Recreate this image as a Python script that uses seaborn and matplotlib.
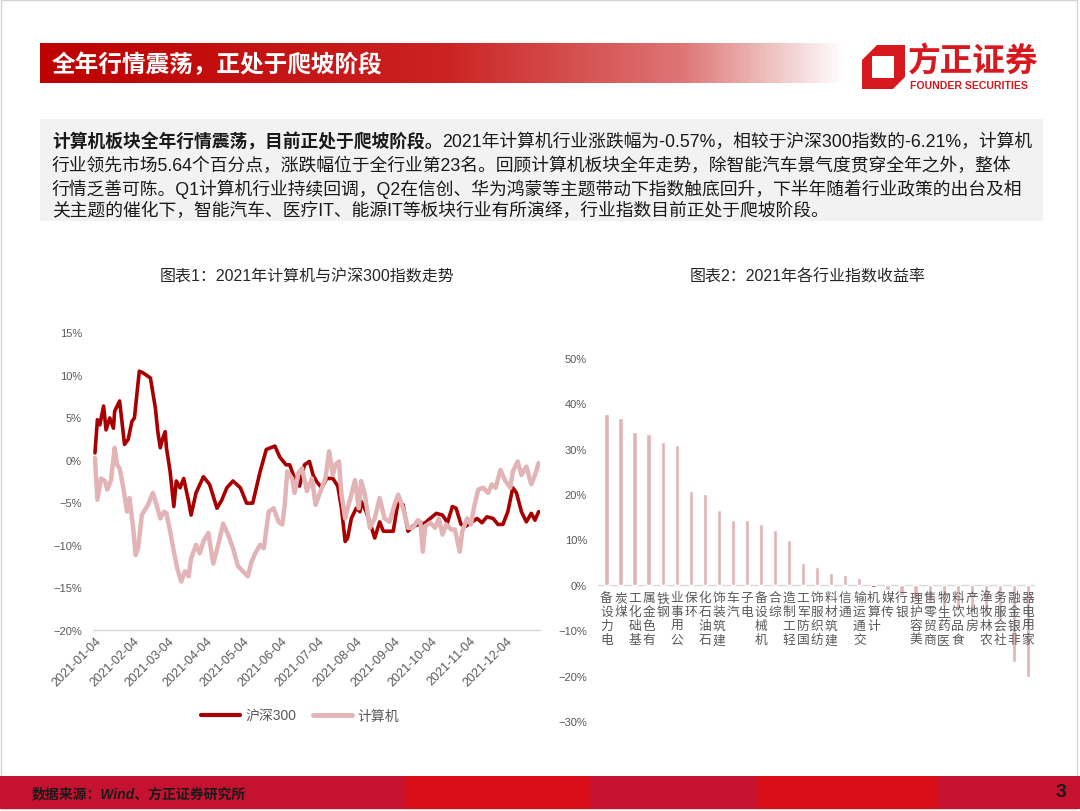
import numpy as np
import pandas as pd
import matplotlib
matplotlib.use('Agg')
import matplotlib.pyplot as plt
import matplotlib.dates as mdates
from matplotlib.patches import Rectangle, Polygon
from matplotlib.colors import LinearSegmentedColormap
from matplotlib.ticker import FuncFormatter
import seaborn as sns

sns.set_theme(style='white')
# 字体：拉丁字符用 Liberation Sans，中文回退到 Noto Sans CJK SC
plt.rcParams['font.family'] = ['Liberation Sans', 'Noto Sans CJK SC', 'DejaVu Sans']

# ---------------- 数据 ----------------
# 图表1：沪深300 与 计算机指数 2021 年累计涨跌幅（%）
hs300_dates = ['2021-01-04', '2021-01-06', '2021-01-08', '2021-01-11', '2021-01-13', '2021-01-16',
               '2021-01-19', '2021-01-20', '2021-01-24', '2021-01-28', '2021-01-31', '2021-02-03',
               '2021-02-05', '2021-02-09', '2021-02-12', '2021-02-18', '2021-02-22', '2021-02-24',
               '2021-02-26', '2021-02-28', '2021-03-02', '2021-03-03', '2021-03-06', '2021-03-09',
               '2021-03-11', '2021-03-14', '2021-03-17', '2021-03-21', '2021-03-23', '2021-03-27',
               '2021-04-02', '2021-04-07', '2021-04-13', '2021-04-17', '2021-04-21', '2021-04-26',
               '2021-05-02', '2021-05-07', '2021-05-12', '2021-05-18', '2021-05-23', '2021-05-30',
               '2021-06-03', '2021-06-08', '2021-06-11', '2021-06-15', '2021-06-19', '2021-06-23',
               '2021-06-27', '2021-06-30', '2021-07-03', '2021-07-07', '2021-07-11', '2021-07-16',
               '2021-07-20', '2021-07-23', '2021-07-26', '2021-07-28', '2021-07-31', '2021-08-04',
               '2021-08-07', '2021-08-08', '2021-08-12', '2021-08-16', '2021-08-19', '2021-08-23',
               '2021-08-26', '2021-08-30', '2021-09-03', '2021-09-07', '2021-09-11', '2021-09-15',
               '2021-09-19', '2021-09-25', '2021-09-29', '2021-10-03', '2021-10-08', '2021-10-13',
               '2021-10-17', '2021-10-21', '2021-10-24', '2021-10-28', '2021-11-01', '2021-11-06',
               '2021-11-10', '2021-11-14', '2021-11-18', '2021-11-23', '2021-11-27', '2021-12-01',
               '2021-12-05', '2021-12-09', '2021-12-12', '2021-12-16', '2021-12-20', '2021-12-24',
               '2021-12-27', '2021-12-30']
hs300_values = [0.8, 4.7, 4.1, 6.3, 3.5, 4.9, 3.7, 5.7, 6.9, 1.8, 2.4, 4.5,
                4.9, 10.4, 10.2, 9.6, 6.1, 3.3, 1.4, 2.5, 3.3, 1.4, -1.4, -5.5,
                -2.5, -3.3, -2.2, -4.9, -6.5, -3.9, -2.0, -2.9, -5.7, -4.7, -3.3, -2.5,
                -3.3, -5.1, -5.1, -1.4, 1.2, 1.6, 0.3, -0.6, -0.6, -2.2, -3.1, -0.6,
                -0.2, -1.8, -2.6, -3.3, -2.2, -2.2, -3.1, -5.7, -9.6, -9.2, -6.9, -5.7,
                -6.1, -4.9, -6.1, -7.8, -9.2, -7.3, -8.4, -8.4, -8.4, -4.9, -5.3, -8.4,
                -7.8, -7.6, -7.4, -6.9, -6.3, -6.5, -7.4, -5.5, -5.7, -7.6, -7.8, -7.3,
                -6.9, -7.4, -6.7, -6.9, -7.6, -7.6, -6.1, -3.3, -3.9, -6.1, -7.3, -6.3,
                -7.1, -6.1]

computer_dates = ['2021-01-04', '2021-01-06', '2021-01-09', '2021-01-12', '2021-01-14', '2021-01-17',
                  '2021-01-20', '2021-01-22', '2021-01-24', '2021-01-27', '2021-01-30', '2021-02-01',
                  '2021-02-04', '2021-02-06', '2021-02-08', '2021-02-11', '2021-02-16', '2021-02-20',
                  '2021-02-23', '2021-02-26', '2021-03-01', '2021-03-03', '2021-03-06', '2021-03-09',
                  '2021-03-12', '2021-03-15', '2021-03-18', '2021-03-21', '2021-03-23', '2021-03-27',
                  '2021-03-30', '2021-04-02', '2021-04-06', '2021-04-10', '2021-04-14', '2021-04-18',
                  '2021-04-22', '2021-04-26', '2021-04-30', '2021-05-04', '2021-05-08', '2021-05-11',
                  '2021-05-14', '2021-05-18', '2021-05-21', '2021-05-25', '2021-05-29', '2021-06-02',
                  '2021-06-05', '2021-06-07', '2021-06-09', '2021-06-13', '2021-06-15', '2021-06-18',
                  '2021-06-21', '2021-06-25', '2021-06-29', '2021-07-02', '2021-07-06', '2021-07-10',
                  '2021-07-13', '2021-07-16', '2021-07-18', '2021-07-21', '2021-07-23', '2021-07-26',
                  '2021-07-28', '2021-07-31', '2021-08-03', '2021-08-06', '2021-08-08', '2021-08-11',
                  '2021-08-15', '2021-08-19', '2021-08-23', '2021-08-27', '2021-08-31', '2021-09-04',
                  '2021-09-07', '2021-09-11', '2021-09-15', '2021-09-19', '2021-09-23', '2021-09-25',
                  '2021-09-27', '2021-09-29', '2021-10-03', '2021-10-07', '2021-10-10', '2021-10-13',
                  '2021-10-16', '2021-10-20', '2021-10-23', '2021-10-27', '2021-10-29', '2021-11-02',
                  '2021-11-05', '2021-11-08', '2021-11-11', '2021-11-15', '2021-11-19', '2021-11-22',
                  '2021-11-25', '2021-11-29', '2021-12-03', '2021-12-07', '2021-12-09', '2021-12-13',
                  '2021-12-16', '2021-12-20', '2021-12-24', '2021-12-27', '2021-12-30']
computer_values = [0.2, -4.7, -2.2, -2.5, -3.5, -2.4, 1.4, -0.6, -1.0, -3.3, -6.1, -4.5,
                   -8.0, -11.2, -10.4, -6.5, -5.3, -3.9, -5.3, -6.9, -6.1, -6.3, -8.4, -10.8,
                   -12.9, -14.3, -13.1, -13.7, -11.6, -10.0, -11.0, -9.6, -8.6, -12.2, -10.0, -7.5,
                   -8.8, -10.4, -12.5, -13.1, -13.7, -12.0, -11.0, -10.0, -10.4, -6.1, -5.7, -7.3,
                   -7.6, -5.3, -1.4, -2.2, -3.9, -1.6, -1.0, -3.7, -2.2, -5.3, -3.7, -2.2,
                   1.0, -1.8, -0.6, -0.2, -4.1, -6.9, -5.7, -4.1, -2.4, -5.7, -2.5, -4.1,
                   -8.0, -6.9, -4.5, -6.9, -7.3, -5.3, -4.1, -5.7, -8.0, -8.0, -7.1, -7.3,
                   -10.8, -7.8, -7.4, -8.0, -6.9, -8.8, -7.6, -8.2, -8.2, -10.8, -8.4, -6.9,
                   -7.6, -5.3, -3.5, -3.3, -3.9, -2.9, -3.3, -1.2, -2.5, -3.3, -1.4, -0.2,
                   -1.8, -0.8, -2.9, -1.8, -0.4]

month_ticks = ['2021-01-04', '2021-02-04', '2021-03-04', '2021-04-04', '2021-05-04', '2021-06-04',
               '2021-07-04', '2021-08-04', '2021-09-04', '2021-10-04', '2021-11-04', '2021-12-04']

# 图表2：2021 年申万一级行业涨跌幅（%）
industries = ['电力设备', '煤炭', '基础化工', '有色金属', '钢铁', '公用事业', '环保', '石油石化',
              '建筑装饰', '汽车', '电子', '机械设备', '综合', '轻工制造', '国防军工', '纺织服饰',
              '建筑材料', '通信', '交通运输', '计算机', '传媒', '银行', '美容护理', '商贸零售',
              '医药生物', '食品饮料', '房地产', '农林牧渔', '社会服务', '非银金融', '家用电器']
industry_returns = [37.6, 36.8, 33.8, 33.2, 31.5, 30.8, 20.7, 20.1,
                    16.4, 14.4, 14.3, 13.4, 12.1, 10.0, 4.9, 3.9,
                    2.7, 2.2, 1.6, -0.57, -1.1, -2.3, -3.2, -3.9,
                    -4.8, -5.6, -6.0, -6.9, -7.8, -16.9, -20.4]

# ---------------- 颜色 ----------------
c_dark = '#A80000'
c_pink = '#E2B4B6'
c_red = '#D7191F'
c_tick = '#595959'

fig = plt.figure(figsize=(10.8, 8.12), dpi=100)
fig.patch.set_facecolor('white')

# 背景层（像素坐标）
bg = fig.add_axes([0, 0, 1, 1], zorder=-10)
bg.axis('off')

# 标题栏渐变
hdr_cmap = LinearSegmentedColormap.from_list(
    'hdr', [(0, '#BE0000'), (0.5, '#CB2222'), (0.8, '#DE7676'), (1, '#FFFFFF')])
bg.imshow(np.linspace(0, 1, 256).reshape(1, -1), cmap=hdr_cmap,
          extent=[40, 845, 84, 44], aspect='auto', zorder=1)
bg.set_xlim(0, 1080)
bg.set_ylim(812, 0)
bg.add_patch(Rectangle((1, 1), 1076, 809, fill=False, edgecolor='#D4D4D4', lw=1, zorder=0))
bg.text(52, 65, '全年行情震荡，正处于爬坡阶段', color='white', fontsize=17,
        fontweight='bold', va='center', ha='left', zorder=3)

# 方正证券 logo
bg.add_patch(Polygon([(877, 46), (905, 46), (905, 78), (893, 90), (862, 90), (862, 61)],
                     closed=True, facecolor=c_red, edgecolor='none', zorder=3))
bg.add_patch(Rectangle((872, 57), 22, 22, facecolor='white', edgecolor='none', zorder=4))
bg.text(908, 62, '方正证券', color=c_red, fontsize=23.5, fontweight='bold', va='center',
        ha='left', zorder=3)
bg.text(910, 86, 'FOUNDER SECURITIES', color=c_red, fontsize=7.6, fontweight='bold',
        va='center', ha='left', zorder=3)

# 文字说明框
bg.add_patch(Rectangle((40, 120), 1003, 102, facecolor='#F2F2F2', edgecolor='none', zorder=1))
body_size = 12.8
t_bold = bg.text(52, 142, '计算机板块全年行情震荡，目前正处于爬坡阶段。', fontsize=body_size,
                 fontweight='bold', color='#1A1A1A', va='center', ha='left', zorder=3)
bg.annotate('2021年计算机行业涨跌幅为-0.57%，相较于沪深300指数的-6.21%，计算机',
            xy=(1, 0.5), xycoords=t_bold, va='center', ha='left', fontsize=body_size,
            color='#1A1A1A', zorder=3)
body_lines = ['行业领先市场5.64个百分点，涨跌幅位于全行业第23名。回顾计算机板块全年走势，除智能汽车景气度贯穿全年之外，整体',
              '行情乏善可陈。Q1计算机行业持续回调，Q2在信创、华为鸿蒙等主题带动下指数触底回升，下半年随着行业政策的出台及相',
              '关主题的催化下，智能汽车、医疗IT、能源IT等板块行业有所演绎，行业指数目前正处于爬坡阶段。']
for line, yy in zip(body_lines, [166, 189, 211]):
    bg.text(52, yy, line, fontsize=body_size, color='#1A1A1A', va='center', ha='left', zorder=3)

# 图表标题
bg.text(307, 277, '图表1：2021年计算机与沪深300指数走势', fontsize=11.5, color='#262626',
        ha='center', va='center', zorder=3)
bg.text(808, 277, '图表2：2021年各行业指数收益率', fontsize=11.5, color='#262626',
        ha='center', va='center', zorder=3)

# 页脚
seg_edges = [0, 406, 589, 758, 937, 1080]
seg_colors = ['#C41230', '#D90D17', '#C41230', '#D90D17', '#C41230']
for x0, x1, cc in zip(seg_edges[:-1], seg_edges[1:], seg_colors):
    bg.add_patch(Rectangle((x0, 777), x1 - x0, 33, facecolor=cc, edgecolor='none', zorder=1))
bg.text(32, 794, '数据来源：Wind、方正证券研究所', fontsize=10, fontweight='bold',
        fontstyle='italic', color='#1A1A1A', va='center', ha='left', zorder=3)
bg.text(1066, 793, '3', fontsize=14, fontweight='bold', color='#1A1A1A',
        va='center', ha='right', zorder=3)

# ---------------- 图表1：折线 ----------------
ax1 = fig.add_axes([93 / 1080, 1 - 631 / 812, 447 / 1080, 298 / 812])
ax1.patch.set_alpha(0)
df_line = pd.concat([
    pd.DataFrame({'日期': pd.to_datetime(hs300_dates), '涨跌幅': hs300_values, '指数': '沪深300'}),
    pd.DataFrame({'日期': pd.to_datetime(computer_dates), '涨跌幅': computer_values, '指数': '计算机'}),
], ignore_index=True)
sns.lineplot(data=df_line, x='日期', y='涨跌幅', hue='指数', hue_order=['沪深300', '计算机'],
             palette=[c_dark, c_pink], linewidth=2.6, ax=ax1)
ax1.lines[1].set_linewidth(3.2)

ax1.set_xlim(pd.Timestamp('2021-01-02 10:00'), pd.Timestamp('2021-12-31 02:00'))
ax1.set_ylim(-20, 15)
ax1.set_yticks(np.arange(-20, 16, 5))
ax1.yaxis.set_major_formatter(FuncFormatter(lambda v, p: f'{v:.0f}%'.replace('-', '\u2212')))
ax1.set_xticks(pd.to_datetime(month_ticks))
ax1.xaxis.set_major_formatter(mdates.DateFormatter('%Y-%m-%d'))
ax1.tick_params(axis='y', length=0, labelsize=8, labelcolor=c_tick, pad=8)
ax1.tick_params(axis='x', length=0, labelsize=9, labelcolor=c_tick, pad=3)
for lab in ax1.get_xticklabels():
    lab.set_rotation(45)
    lab.set_ha('right')
    lab.set_rotation_mode('anchor')
ax1.set_xlabel('')
ax1.set_ylabel('')
for side in ['top', 'right', 'left']:
    ax1.spines[side].set_visible(False)
ax1.spines['bottom'].set_color('#D9D9D9')
ax1.spines['bottom'].set_linewidth(1)

handles, labels = ax1.get_legend_handles_labels()
handles[0].set_linewidth(3)
handles[1].set_linewidth(3.5)
ax1.legend(handles, labels, loc='center', bbox_to_anchor=(300 / 1080, 1 - 717 / 812),
           bbox_transform=fig.transFigure, ncol=2, frameon=False, handlelength=2.8,
           columnspacing=1.2, handletextpad=0.4, fontsize=10, labelcolor=c_tick)

# ---------------- 图表2：柱状 ----------------
ax2 = fig.add_axes([598 / 1080, 1 - 722 / 812, 437 / 1080, 363 / 812])
ax2.patch.set_alpha(0)
bar_colors = [c_dark if name == '计算机' else c_pink for name in industries]
sns.barplot(x=industries, y=industry_returns, hue=industries, palette=bar_colors,
            width=0.3, saturation=1, legend=False, ax=ax2)
ax2.set_xlim(-0.6, len(industries) - 0.5)
ax2.set_ylim(-30, 50)
ax2.set_yticks(np.arange(-30, 51, 10))
ax2.yaxis.set_major_formatter(FuncFormatter(lambda v, p: f'{v:.0f}%'.replace('-', '\u2212')))
ax2.tick_params(axis='y', length=0, labelsize=8, labelcolor=c_tick, pad=8)
ax2.set_xticks([])
ax2.set_xlabel('')
ax2.set_ylabel('')
for side in ax2.spines:
    ax2.spines[side].set_visible(False)
ax2.axhline(0, color='#D9D9D9', lw=1, zorder=0)
for i, name in enumerate(industries):
    ax2.annotate('\n'.join(reversed(name)), xy=(i, 0), xytext=(0, -5),
                 textcoords='offset points', ha='center', va='top', fontsize=9.2,
                 color=c_tick, linespacing=1.22)

fig.savefig('out.png', dpi=100)
